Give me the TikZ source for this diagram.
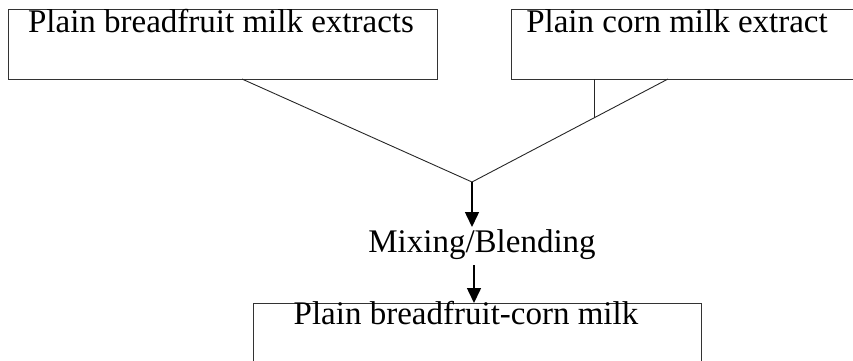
\documentclass[tikz,border=0pt]{standalone}
\usepackage{fontspec}
\setmainfont{Liberation Serif}
\usetikzlibrary{arrows.meta}
\begin{document}
\begin{tikzpicture}[x=1pt,y=-1pt,
  box/.style={draw=black!80, line width=1pt, inner sep=0pt},
  lbl/.style={font=\fontsize{33}{36}\selectfont, inner sep=0pt, anchor=base},
  conn/.style={draw=black!85, line width=0.9pt},
  arr/.style={draw=black, line width=1.5pt, -{Triangle[length=15pt,width=14pt]}}]
\useasboundingbox (0,0) rectangle (853,360);
\clip (0,0) rectangle (853,360);
\node[box, minimum width=429pt, minimum height=70pt, anchor=north west] (b1) at (8,9) {};
\node[box, minimum width=370pt, minimum height=70pt, anchor=north west] (b2) at (511,9) {};
\node[box, minimum width=448pt, minimum height=90pt, anchor=north west] (b3) at (253,303) {};
\node[lbl] (t1) at (221,32) {Plain breadfruit milk extracts};
\node[lbl] (t2) at (677,32) {Plain corn milk extract};
\node[lbl] (mix) at (482,252) {Mixing/Blending};
\node[lbl] (t3) at (466,324) {Plain breadfruit-corn milk};
\coordinate (s1) at (242,79);
\coordinate (s2) at (668,79);
\coordinate (j) at (472,182);
\coordinate (tk) at (594,79);
\coordinate (tkb) at (594,118);
\coordinate (a1e) at (472,227);
\coordinate (a2s) at (474,265);
\coordinate (a2e) at (474,303);
\draw[conn] (s1) -- (j) -- (s2);
\draw[conn] (tk) -- (tkb);
\draw[arr] (j) -- (a1e);
\draw[arr] (a2s) -- (a2e);
\end{tikzpicture}
\end{document}
